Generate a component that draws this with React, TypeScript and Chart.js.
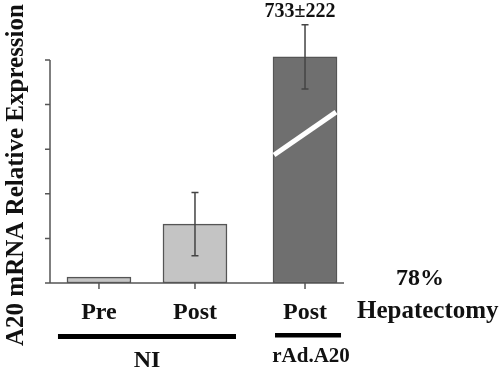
import React, { useEffect, useRef } from "react";
import { Chart, registerables } from "chart.js";

Chart.register(...registerables);

const categories = ["Pre", "Post", "Post"];
const groupLabels = ["NI", "rAd.A20"];
const groupOfBar = [0, 0, 1];
const values = [0.13, 1.32, 5.07];
const errors = [0, 0.71, 0.72];
const barSlots = [1, 2, 3.146];
const yTicks = [0, 1, 2, 3, 4, 5];
const valueLabel = "733±222";
const breakRange = [2.87, 3.83];
const sideLabels = ["78%", "Hepatectomy"];

const barColors = ["#c4c4c4", "#c4c4c4", "#6f6f6f"];

const FONT = '"Liberation Serif", "Times New Roman", serif';

const overlay = {
  id: "overlay",
  afterDatasetsDraw(chart: any) {
    const ctx = chart.ctx as CanvasRenderingContext2D;
    const xs = chart.scales.x;
    const ys = chart.scales.y;
    const meta = chart.getDatasetMeta(0);
    const y0 = ys.getPixelForValue(0);
    const axisX = chart.chartArea.left;
    ctx.save();
    // y axis
    ctx.strokeStyle = "#555";
    ctx.lineWidth = 1.5;
    ctx.beginPath();
    ctx.moveTo(axisX, y0);
    ctx.lineTo(axisX, ys.getPixelForValue(yTicks[yTicks.length - 1]));
    yTicks.forEach((t) => {
      const p = ys.getPixelForValue(t);
      ctx.moveTo(axisX - 5, p);
      ctx.lineTo(axisX, p);
    });
    // x axis
    ctx.moveTo(axisX - 4, y0);
    ctx.lineTo(chart.chartArea.right, y0);
    barSlots.forEach((s) => {
      const p = xs.getPixelForValue(s);
      ctx.moveTo(p, y0);
      ctx.lineTo(p, y0 + 6);
    });
    ctx.stroke();

    // break stroke on last bar
    const lastBar = meta.data[values.length - 1];
    const half = lastBar.width / 2;
    ctx.strokeStyle = "#fff";
    ctx.lineWidth = 5;
    ctx.beginPath();
    ctx.moveTo(lastBar.x - half + 1, ys.getPixelForValue(breakRange[0]));
    ctx.lineTo(lastBar.x + half - 1, ys.getPixelForValue(breakRange[1]));
    ctx.stroke();

    // error bars
    ctx.strokeStyle = "#444";
    ctx.lineWidth = 1.5;
    values.forEach((v, i) => {
      if (!errors[i]) return;
      const x = xs.getPixelForValue(barSlots[i]);
      const hi = ys.getPixelForValue(v + errors[i]);
      const lo = ys.getPixelForValue(v - errors[i]);
      ctx.beginPath();
      ctx.moveTo(x, hi);
      ctx.lineTo(x, lo);
      ctx.moveTo(x - 3.5, hi);
      ctx.lineTo(x + 3.5, hi);
      ctx.moveTo(x - 3.5, lo);
      ctx.lineTo(x + 3.5, lo);
      ctx.stroke();
    });

    // texts
    ctx.fillStyle = "#111";
    ctx.textAlign = "center";
    ctx.textBaseline = "alphabetic";
    ctx.font = `bold 24px ${FONT}`;
    categories.forEach((c, i) => {
      ctx.fillText(c, xs.getPixelForValue(barSlots[i]), y0 + 36);
    });

    // group underlines and labels
    groupLabels.forEach((g, gi) => {
      const idx = groupOfBar.map((gg, i) => (gg === gi ? i : -1)).filter((i) => i >= 0);
      const first = meta.data[idx[0]];
      const last = meta.data[idx[idx.length - 1]];
      const multi = idx.length > 1;
      const l = first.x - first.width / 2 + (multi ? -9 : 2);
      const r = last.x + last.width / 2 + (multi ? 9 : 4);
      ctx.fillStyle = "#000";
      ctx.fillRect(l, y0 + (multi ? 51 : 50), r - l, multi ? 5 : 4.5);
      ctx.fillStyle = "#111";
      ctx.font = multi ? `bold 24px ${FONT}` : `bold 21px ${FONT}`;
      ctx.fillText(g, (l + r) / 2 + (multi ? 0 : 3), y0 + (multi ? 84 : 79));
    });

    // value label
    ctx.font = `bold 20px ${FONT}`;
    ctx.fillText(valueLabel, lastBar.x - 5, 17);

    // side labels
    ctx.font = `bold 24px ${FONT}`;
    ctx.fillText(sideLabels[0], 420, y0 + 2);
    ctx.textAlign = "left";
    ctx.font = `bold 25px ${FONT}`;
    ctx.fillText(sideLabels[1], 357, y0 + 35);

    // y title
    ctx.save();
    ctx.translate(23, 175);
    ctx.rotate(-Math.PI / 2);
    ctx.textAlign = "center";
    ctx.font = `bold 25px ${FONT}`;
    ctx.fillText("A20 mRNA Relative Expression", 0, 0);
    ctx.restore();

    ctx.restore();
  },
};

export default function App() {
  const ref = useRef<HTMLCanvasElement | null>(null);
  useEffect(() => {
    if (!ref.current) return;
    const chart = new Chart(ref.current, {
      type: "bar",
      data: {
        datasets: [
          {
            data: values.map((v, i) => ({ x: barSlots[i], y: v })),
            backgroundColor: barColors,
            borderColor: "#555",
            borderWidth: 1.5,
            barThickness: 64,
            borderSkipped: false,
          } as any,
        ],
      },
      options: {
        animation: false,
        responsive: false,
        devicePixelRatio: 1,
        layout: { padding: { left: 50, right: 156, top: 15.4, bottom: 88 } },
        plugins: { legend: { display: false }, tooltip: { enabled: false } },
        scales: {
          x: { type: "linear", min: 0.49, max: 3.552, display: false, offset: false },
          y: { min: 0, max: 6, display: false },
        },
      },
      plugins: [overlay],
    });
    return () => chart.destroy();
  }, []);
  return (
    <div style={{ position: "absolute", left: 0, top: 0, width: 500, height: 371, background: "#fff" }}>
      <canvas ref={ref} width={500} height={371} />
    </div>
  );
}
